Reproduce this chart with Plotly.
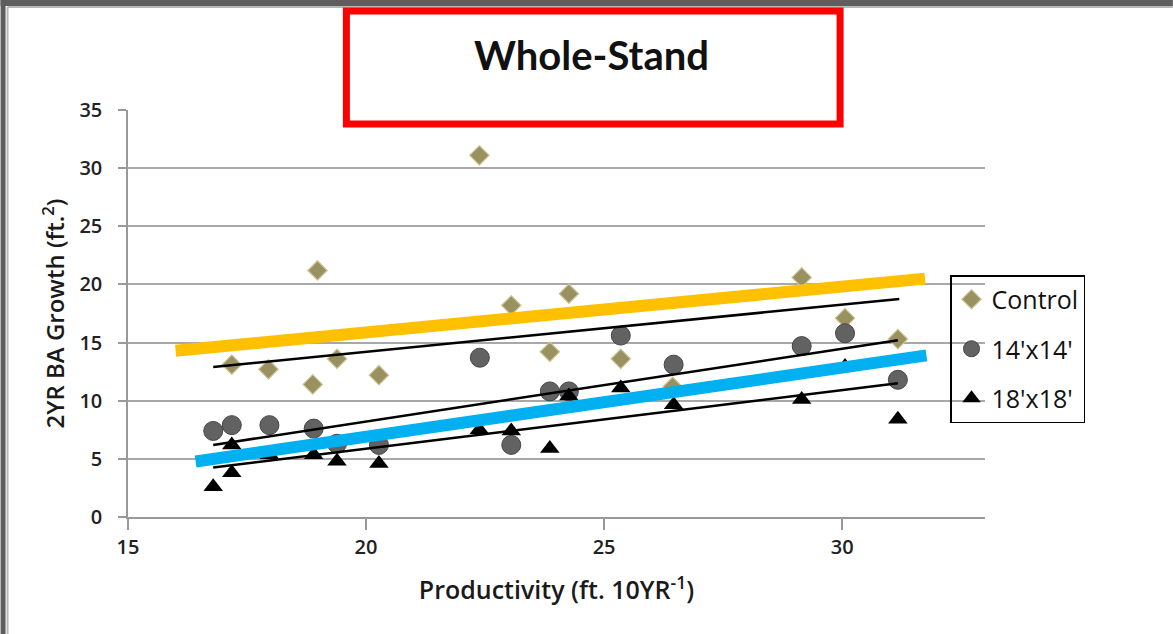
import plotly.graph_objects as go

# ---------------- data ----------------
ctrl_x = [17.18, 17.95, 18.88, 18.98, 19.39, 20.27, 22.38, 23.05, 23.86, 24.26, 25.35, 26.44, 29.15, 30.06, 31.17]
ctrl_y = [13.1, 12.7, 11.4, 21.2, 13.6, 12.2, 31.1, 18.2, 14.2, 19.2, 13.6, 11.2, 20.6, 17.1, 15.3]

s14_x = [16.79, 17.18, 17.97, 18.90, 19.39, 20.27, 22.39, 23.05, 23.86, 24.26, 25.35, 26.46, 29.15, 30.06, 31.17]
s14_y = [7.4, 7.9, 7.9, 7.6, 6.3, 6.2, 13.7, 6.2, 10.8, 10.8, 15.6, 13.1, 14.7, 15.8, 11.8]

s18_x = [16.79, 17.18, 17.18, 17.97, 18.90, 19.39, 20.27, 22.38, 23.05, 23.86, 24.26, 25.35, 26.46, 29.15, 30.06, 31.17]
s18_y = [2.6, 3.8, 6.2, 5.35, 5.35, 4.8, 4.6, 7.5, 7.4, 5.9, 10.4, 11.1, 9.65, 10.1, 12.95, 8.4]

trend_ctrl_x = [16.79, 31.2]
trend_ctrl_y = [12.9, 18.75]
trend_14_x = [16.79, 31.17]
trend_14_y = [6.2, 15.2]
trend_18_x = [16.79, 31.17]
trend_18_y = [4.25, 11.5]

orange_x = [16.0, 31.74]
orange_y = [14.3, 20.5]
blue_x = [16.42, 31.77]
blue_y = [4.77, 13.9]

x_ticks = [15, 20, 25, 30]
y_ticks = [0, 5, 10, 15, 20, 25, 30, 35]

# ---------------- layout geometry ----------------
W_PX, H_PX = 1173, 634
L, R, T, B = 127.5, 985, 110, 517
PW, PH = R - L, B - T

def px(x):
    return (x - L) / PW

def py(y):
    return (B - y) / PH

FONT = "Open Sans"

fig = go.Figure()

fig.add_trace(go.Scatter(
    x=ctrl_x, y=ctrl_y, mode="markers", name="Control", legendgroup="a",
    marker=dict(symbol="diamond", size=15, color="#9A9160",
                line=dict(color="#CFC79A", width=1.2)),
))
fig.add_trace(go.Scatter(
    x=s14_x, y=s14_y, mode="markers", name="14'x14'", legendgroup="b",
    marker=dict(symbol="circle", size=19, color="#626262",
                line=dict(color="#454545", width=1)),
))
fig.add_trace(go.Scatter(
    x=s18_x, y=s18_y, mode="markers", name="18'x18'", legendgroup="c",
    marker=dict(symbol="triangle-up", size=17, color="#000000",
                line=dict(color="#000000", width=0)),
))

for tx, ty in [(trend_ctrl_x, trend_ctrl_y), (trend_14_x, trend_14_y), (trend_18_x, trend_18_y)]:
    fig.add_trace(go.Scatter(x=tx, y=ty, mode="lines", showlegend=False,
                             line=dict(color="#000000", width=2.5), hoverinfo="skip"))

fig.add_trace(go.Scatter(x=orange_x, y=orange_y, mode="lines", showlegend=False,
                         line=dict(color="#FFC000", width=12), hoverinfo="skip"))
fig.add_trace(go.Scatter(x=blue_x, y=blue_y, mode="lines", showlegend=False,
                         line=dict(color="#00B0F0", width=12), hoverinfo="skip"))

shapes = [
    # dark checkered frame strips (top / left)
    dict(type="rect", xref="paper", yref="paper", x0=px(0), x1=px(W_PX), y0=py(0), y1=py(6),
         fillcolor="#5E5E5E", line=dict(width=0), layer="above"),
    dict(type="rect", xref="paper", yref="paper", x0=px(0), x1=px(5), y0=py(0), y1=py(H_PX),
         fillcolor="#5E5E5E", line=dict(width=0), layer="above"),
    dict(type="line", xref="paper", yref="paper", x0=px(7), x1=px(7), y0=py(7), y1=py(H_PX),
         line=dict(color="#B8B8B8", width=2), layer="above"),
    dict(type="line", xref="paper", yref="paper", x0=px(7), x1=px(W_PX), y0=py(7), y1=py(7),
         line=dict(color="#B8B8B8", width=2), layer="above"),
    # red title box
    dict(type="rect", xref="paper", yref="paper", x0=px(346), x1=px(840), y0=py(11), y1=py(124),
         line=dict(color="#FF0000", width=7), fillcolor="rgba(255,255,255,0)", layer="above"),
]

annotations = [
    dict(text="<b>Whole-Stand</b>", xref="paper", yref="paper", x=px(591), y=py(55),
         xanchor="center", yanchor="middle", showarrow=False,
         font=dict(family="Lato", size=40, color="#111111")),
]

fig.update_layout(
    width=W_PX, height=H_PX,
    margin=dict(l=L, r=W_PX - R, t=T, b=H_PX - B, pad=0),
    paper_bgcolor="#FFFFFF", plot_bgcolor="rgba(0,0,0,0)",
    font=dict(family=FONT, color="#1A1A1A"),
    shapes=shapes, annotations=annotations,
    showlegend=True,
    legend=dict(x=px(950), y=py(275), xanchor="left", yanchor="top",
                bordercolor="#000000", borderwidth=1.5, bgcolor="rgba(255,255,255,0)",
                font=dict(family=FONT, size=25, color="#111111"),
                tracegroupgap=14, itemwidth=30),
    xaxis=dict(range=[15, 33], tickvals=x_ticks, ticktext=[str(v) for v in x_ticks],
               showgrid=False, zeroline=False, showline=True, linecolor="#999999", linewidth=1.5,
               ticks="outside", ticklen=11, tickcolor="#999999", tickwidth=1.5,
               tickfont=dict(family=FONT, size=20, color="#222222", weight=600),
               title=dict(text="Productivity (ft. 10YR<sup>-1</sup>)", standoff=23,
                          font=dict(family=FONT, size=25, color="#1A1A1A", weight=600))),
    yaxis=dict(range=[0, 35], tickvals=y_ticks, ticktext=[str(v) for v in y_ticks],
               showgrid=True, gridcolor="#A8A8A8", gridwidth=1.5, zeroline=False,
               showline=True, linecolor="#999999", linewidth=1.5,
               ticks="outside", ticklen=8, tickcolor="#999999", tickwidth=1.5,
               ticklabelstandoff=12,
               tickfont=dict(family=FONT, size=20, color="#222222", weight=600),
               title=dict(text="2YR BA Growth (ft.<sup>2</sup>)", standoff=8,
                          font=dict(family=FONT, size=24, color="#1A1A1A", weight=600))),
)

fig.write_html("out.html", post_script="document.body.style.margin='0';",
               config={"displayModeBar": False})
